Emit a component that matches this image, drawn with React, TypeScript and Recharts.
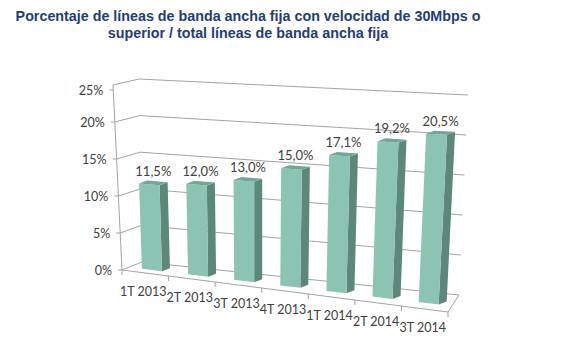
import { BarChart, Bar, XAxis, YAxis, CartesianGrid } from 'recharts';

const quarters = ['1T 2013', '2T 2013', '3T 2013', '4T 2013', '1T 2014', '2T 2014', '3T 2014'];
const shares = [11.5, 12.0, 13.0, 15.0, 17.1, 19.2, 20.5];
const yTicks = [0, 5, 10, 15, 20, 25];

const rows = quarters.map((q, i) => ({ q, v: shares[i] }));

const W = 584;
const H = 352;
// flat chart frame: recharts lays out in this, then we project it into the 3D box
const AX_W = 20;
const AX_H = 20;
const PLOT = { left: AX_W, top: 0, width: W - AX_W, height: H - AX_H };

type Pt = [number, number];
type Face = { b0: Pt; t0: Pt; b1: Pt; t1: Pt };

// corners of the box as seen on screen: front (z=0) and back wall (z=1)
const FRONT: Face = { b0: [122, 270], t0: [113, 85], b1: [448, 312], t1: [460, 100] };
const BACK: Face = { b0: [142, 262], t0: [139, 79], b1: [459, 295], t1: [468, 95] };

// bars stand a bit behind the front edge; their own depth is drawn as a fixed offset
const BAR_Z = 0.35;
const BAR_DEPTH: Pt = [8, -3];

const GRID = '#a3a3a3';
const TEXT = '#404040';
const FONT = 'Lato, "Open Sans", sans-serif';

const lerp = (a: Pt, b: Pt, t: number): Pt => [a[0] + (b[0] - a[0]) * t, a[1] + (b[1] - a[1]) * t];
const plane = (c: Face, x: number, y: number): Pt => lerp(lerp(c.b0, c.b1, x), lerp(c.t0, c.t1, x), y);
const proj = (x: number, y: number, z: number): Pt => lerp(plane(FRONT, x, y), plane(BACK, x, y), z);
const back = (p: Pt): Pt => [p[0] + BAR_DEPTH[0], p[1] + BAR_DEPTH[1]];

const fx = (px: number) => (px - PLOT.left) / PLOT.width;
const fy = (py: number) => (PLOT.top + PLOT.height - py) / PLOT.height;

const pts = (list: Pt[]) => list.map((p) => `${p[0].toFixed(2)},${p[1].toFixed(2)}`).join(' ');
const pct = (v: number) => `${v.toFixed(1).replace('.', ',')}%`;

function GridLine(props: any) {
    const y = fy(props.y1);
    const wall = [proj(0, y, 0), proj(0, y, 1), proj(1, y, 1)];
    return (
        <g key={`g-${props.index}`}>
            <polyline points={pts(wall)} fill="none" stroke={GRID} strokeWidth={1} />
            {y < 0.001 && (
                <>
                    <polyline
                        points={pts([proj(0, 0, 0), proj(1, 0, 0), proj(1, 0, 1)])}
                        fill="none"
                        stroke={GRID}
                        strokeWidth={1}
                    />
                    <line
                        x1={proj(0, 0, 0)[0]}
                        y1={proj(0, 0, 0)[1]}
                        x2={proj(0, 1, 0)[0]}
                        y2={proj(0, 1, 0)[1]}
                        stroke={GRID}
                    />
                </>
            )}
        </g>
    );
}

function YTick(props: any) {
    const y = fy(props.y);
    const [px, py] = proj(0, y, 0);
    return (
        <g>
            <line x1={px - 4} y1={py} x2={px} y2={py} stroke={GRID} />
            <text
                x={px - 10}
                y={py}
                textAnchor="end"
                dominantBaseline="central"
                fontFamily={FONT}
                fontSize={12.5}
                fill={TEXT}
            >
                {props.payload.value}%
            </text>
        </g>
    );
}

function XTick(props: any) {
    const band = 1 / quarters.length;
    const xc = fx(props.x);
    const left = xc - band / 2;
    const [px, py] = proj(xc, 0, 0);
    const marks = [left];
    if (props.payload.index === quarters.length - 1) marks.push(left + band);
    return (
        <g>
            {marks.map((m) => {
                const [mx, my] = proj(m, 0, 0);
                return <line key={m} x1={mx} y1={my} x2={mx} y2={my + 5} stroke={GRID} />;
            })}
            <text
                x={px - 2}
                y={py + 18}
                textAnchor="middle"
                dominantBaseline="central"
                fontFamily={FONT}
                fontSize={12.5}
                fill={TEXT}
            >
                {props.payload.value}
            </text>
        </g>
    );
}

function Bar3D(props: any) {
    const { x, y, width, height, payload } = props;
    const x0 = fx(x);
    const x1 = fx(x + width);
    const top = fy(y);
    const base = fy(y + height);
    const fl = proj(x0, base, BAR_Z);
    const fr = proj(x1, base, BAR_Z);
    const tr = proj(x1, top, BAR_Z);
    const tl = proj(x0, top, BAR_Z);
    const front = [fl, fr, tr, tl];
    const side = [fr, back(fr), back(tr), tr];
    const lid = [tl, tr, back(tr), back(tl)];
    const lx = (tl[0] + back(tr)[0]) / 2;
    const ly = (tl[1] + back(tr)[1]) / 2;
    return (
        <g>
            <polygon points={pts(side)} fill="#5c877b" />
            <polygon points={pts(front)} fill="#8cc4b4" />
            <polygon points={pts(lid)} fill="#72a696" />
            <text
                x={lx}
                y={ly - 12}
                textAnchor="middle"
                dominantBaseline="central"
                fontFamily={FONT}
                fontSize={13}
                fill={TEXT}
            >
                {pct(payload.v)}
            </text>
        </g>
    );
}

export default function App() {
    return (
        <div style={{ position: 'fixed', left: 0, top: 0, width: W, height: H, background: '#fff' }}>
            <svg width={W} height={50} style={{ position: 'absolute', left: 0, top: 0 }}>
                <g fontFamily='"Liberation Sans", Arial, sans-serif' fontWeight="bold" fontSize={14.3} fill="#1f3d7a">
                    <text x={248} y={20.5} textAnchor="middle">
                        Porcentaje de líneas de banda ancha fija con velocidad de 30Mbps o
                    </text>
                    <text x={248} y={37.5} textAnchor="middle">
                        superior / total líneas de banda ancha fija
                    </text>
                </g>
            </svg>
            <BarChart
                width={W}
                height={H}
                data={rows}
                margin={{ top: 0, right: 0, bottom: 0, left: 0 }}
                barCategoryGap="28%"
                style={{ position: 'absolute', left: 0, top: 0 }}
            >
                <CartesianGrid vertical={false} horizontal={(p: any) => <GridLine {...p} />} />
                <XAxis
                    dataKey="q"
                    height={AX_H}
                    interval={0}
                    axisLine={false}
                    tickLine={false}
                    tick={(p: any) => <XTick {...p} />}
                />
                <YAxis
                    type="number"
                    domain={[0, 25]}
                    ticks={yTicks}
                    width={AX_W}
                    axisLine={false}
                    tickLine={false}
                    tick={(p: any) => <YTick {...p} />}
                />
                <Bar dataKey="v" isAnimationActive={false} shape={(p: any) => <Bar3D {...p} />} />
            </BarChart>
        </div>
    );
}
